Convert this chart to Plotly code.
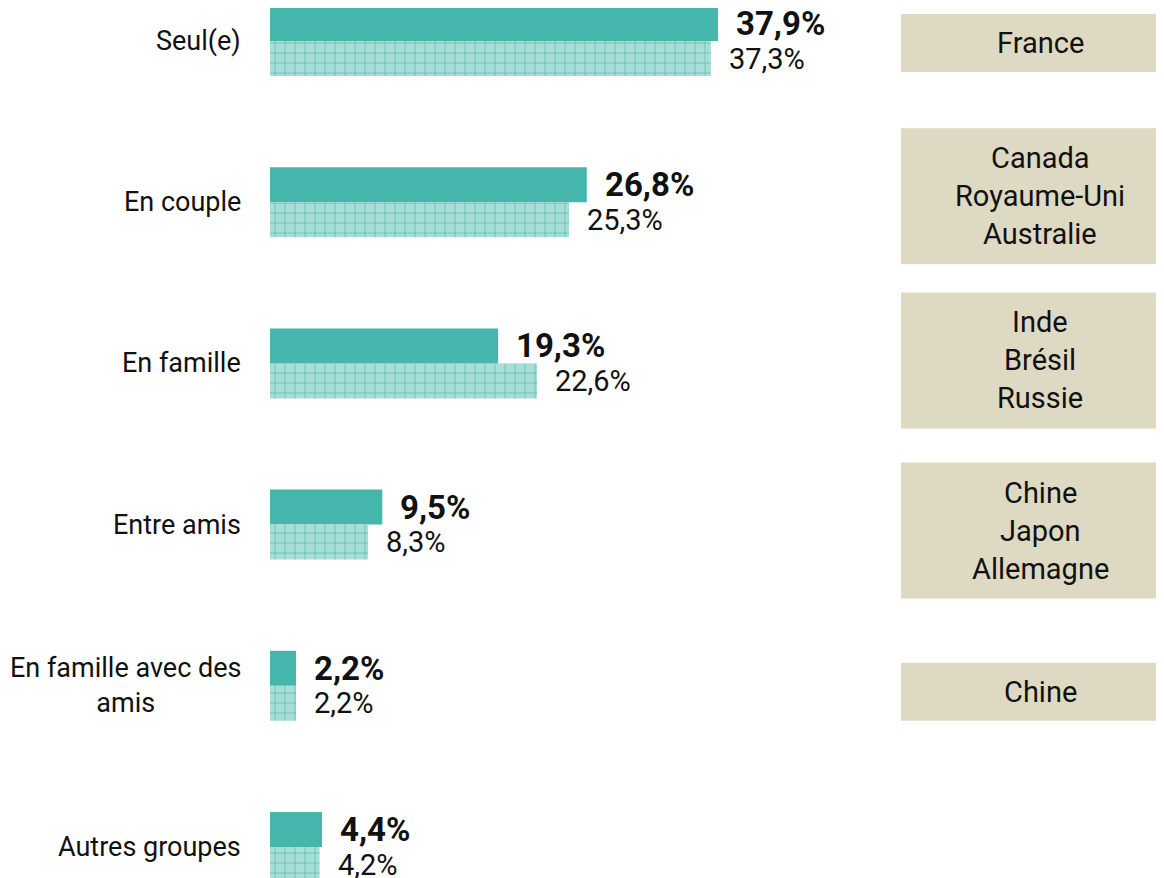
import plotly.graph_objects as go

categories = ["Seul(e)", "En couple", "En famille", "Entre amis",
              "En famille avec des<br>amis", "Autres groupes"]
values_main = [37.9, 26.8, 19.3, 9.5, 2.2, 4.4]
values_second = [37.3, 25.3, 22.6, 8.3, 2.2, 4.2]
box_labels = [["France"], ["Canada", "Royaume-Uni", "Australie"],
              ["Inde", "Brésil", "Russie"], ["Chine", "Japon", "Allemagne"],
              ["Chine"], []]

def fmt(v):
    return f"{v:.1f}".replace(".", ",") + "%"

FONT = "Roboto"
TEAL = "#45b6ac"
LIGHT = "#a9ded6"
BOX = "#ddd9c3"

rows = list(range(len(categories)))
px_per_row = 161.2
bw = 35 / px_per_row
OFF = 8  # page body margin
box_shift_px = [2, -6, -3, 6, 6, 0]  # vertical placement of side boxes

fig = go.Figure()
fig.add_trace(go.Bar(
    y=rows, x=values_main, orientation="h", width=bw, offset=-bw,
    marker=dict(color=TEAL, line=dict(width=0)), hoverinfo="skip", showlegend=False))
fig.add_trace(go.Bar(
    y=rows, x=values_second, orientation="h", width=bw, offset=0,
    marker=dict(color=LIGHT, line=dict(width=0),
                pattern=dict(shape="+", fgcolor=TEAL, bgcolor=LIGHT, size=10,
                             solidity=0.12, fillmode="replace")),
    hoverinfo="skip", showlegend=False))

ann = []
for i, (c, a, b) in enumerate(zip(categories, values_main, values_second)):
    ann.append(dict(x=0, xref="paper", y=i, yref="y", xanchor="right", yanchor="middle",
                    xshift=-27, text=c, showarrow=False, align="center",
                    font=dict(family=FONT, size=27, color="#111")))
    ann.append(dict(x=a, y=i - bw / 2, xanchor="left", yanchor="middle", xshift=16,
                    text=f"<b>{fmt(a)}</b>", showarrow=False,
                    font=dict(family=FONT, size=33, color="#111")))
    ann.append(dict(x=b, y=i + bw / 2, xanchor="left", yanchor="middle", xshift=16,
                    text=fmt(b), showarrow=False,
                    font=dict(family=FONT, size=29, color="#111")))

shapes = []
line_h = 38 / px_per_row
box_x0 = (901 - 270) / 894
for i, lines in enumerate(box_labels):
    if not lines:
        continue
    n = len(lines)
    half = (58 if n == 1 else 136) / 2 / px_per_row
    yc = i + box_shift_px[i] / px_per_row
    shapes.append(dict(type="rect", xref="paper", yref="y", x0=box_x0, x1=1.02,
                       y0=yc - half, y1=yc + half, fillcolor=BOX, line=dict(width=0),
                       layer="below"))
    for k, t in enumerate(lines):
        ann.append(dict(x=(1040 - 270) / 894, xref="paper", y=yc + (k - (n - 1) / 2) * line_h,
                        yref="y", xanchor="center", yanchor="middle", text=t,
                        showarrow=False, font=dict(family=FONT, size=29, color="#111")))

fig.update_layout(
    width=1164 - OFF, height=878 - OFF,
    margin=dict(l=270 - OFF, r=0, t=0, b=0),
    plot_bgcolor="white", paper_bgcolor="white",
    xaxis=dict(range=[0, 894 / 11.82], visible=False, fixedrange=True),
    yaxis=dict(range=[(878 - 41) / px_per_row, (OFF - 41) / px_per_row],
               visible=False, fixedrange=True),
    annotations=ann, shapes=shapes, barmode="overlay",
)
fig.write_html("out.html")
